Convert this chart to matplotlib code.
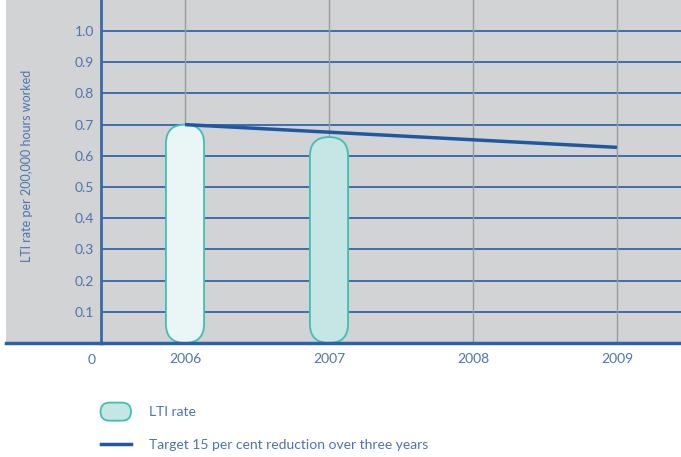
import matplotlib.pyplot as plt
from matplotlib.patches import FancyBboxPatch, Rectangle
from matplotlib.lines import Line2D
from matplotlib.legend_handler import HandlerPatch

# data
years = [2006, 2007]
lti_rate = [0.70, 0.66]
target_years = [2006, 2009]
target_rate = [0.70, 0.627]
year_ticks = [2006, 2007, 2008, 2009]
y_ticks = [0.1, 0.2, 0.3, 0.4, 0.5, 0.6, 0.7, 0.8, 0.9, 1.0]
bar_fills = ['#eaf5f5', '#c6e6e5']

blue = '#1f58a0'
text_blue = '#4d74ab'
gray_bg = '#d2d3d5'
teal = '#3fbfb4'

plt.rcParams['font.family'] = ['Lato', 'DejaVu Sans']

W, H = 681, 457
fig = plt.figure(figsize=(W / 100, H / 100), dpi=100)

# gray panel behind the y label area (kept under the axes)
fig.patches.append(Rectangle((6 / W, 1 - 343 / H), (101 - 6) / W, 343 / H,
                             transform=fig.transFigure, facecolor=gray_bg,
                             edgecolor='none', zorder=-1))

ax = fig.add_axes([101 / W, 1 - 343 / H, (681 - 101) / W, 343 / H])
ax.set_facecolor(gray_bg)

x_lo = 2006 - 84 / 144
x_hi = 2006 + (681 - 185) / 144
ax.set_xlim(x_lo, x_hi)
ax.set_ylim(0, 343 / 312)

# grid lines
for y in y_ticks:
    ax.axhline(y, color='#3565a8', lw=1.3, zorder=1)
for x in year_ticks:
    ax.axvline(x, color='#9b9b9d', lw=1.0, zorder=1)

# capsule bars
bar_w = 0.265
aspect = (1 / 312) / (1 / 144)
for yr, val, fc in zip(years, lti_rate, bar_fills):
    p = FancyBboxPatch((yr - bar_w / 2, 0), bar_w, val,
                       boxstyle=f'round,pad=0,rounding_size={bar_w / 2}',
                       mutation_aspect=aspect, facecolor=fc, edgecolor=teal,
                       lw=1.3, zorder=3)
    ax.add_patch(p)

# target line
ax.plot(target_years, target_rate, color=blue, lw=2.5, zorder=4,
        solid_capstyle='butt')

for s in ['top', 'right']:
    ax.spines[s].set_visible(False)
ax.spines['left'].set_color('#3a68a8')
ax.spines['left'].set_linewidth(2)
ax.spines['bottom'].set_color('#2e62a6')
ax.spines['bottom'].set_linewidth(2.5)
ax.spines['bottom'].set_zorder(5)

# extend baseline to the left under the label area
fig.lines.append(Line2D([6 / W, 101 / W], [1 - 343 / H, 1 - 343 / H],
                        transform=fig.transFigure, color='#2e62a6', lw=2.5))

ax.set_xticks(year_ticks)
ax.set_xticklabels([str(y) for y in year_ticks])
ax.set_yticks(y_ticks)
ax.set_yticklabels([f'{y:.1f}' for y in y_ticks])
ax.tick_params(axis='both', length=0, colors=text_blue, labelsize=10)
ax.tick_params(axis='x', pad=7)
ax.tick_params(axis='y', pad=5)

ax.annotate('0', xy=(0, 0), xycoords='axes fraction', xytext=(-7, -12),
            textcoords='offset points', ha='center', va='center',
            color=text_blue, fontsize=10)

fig.text(27 / W, 1 - 166 / H, 'LTI rate per 200,000 hours worked',
         rotation=90, ha='center', va='center', color=text_blue, fontsize=9)


# legend with a capsule marker
def capsule(legend, orig_handle, xdescent, ydescent, width, height, fontsize):
    return FancyBboxPatch((-xdescent, -ydescent - 3), width, height + 6,
                          boxstyle=f'round,pad=0,rounding_size={(height + 6) / 2}')


legend_handles = [
    Rectangle((0, 0), 1, 1, facecolor='#c6e6e5', edgecolor=teal, lw=1.3),
    Line2D([], [], color=blue, lw=2.5),
]
leg = fig.legend(legend_handles, ['LTI rate', 'Target 15 per cent reduction over three years'],
                 loc='upper left', bbox_to_anchor=(88 / W, 1 - 394 / H),
                 frameon=False, fontsize=10, handlelength=2.2, handletextpad=1.3,
                 labelspacing=1.5, handler_map={Rectangle: HandlerPatch(patch_func=capsule)})
for t in leg.get_texts():
    t.set_color(text_blue)

fig.savefig('out.png', dpi=100)
